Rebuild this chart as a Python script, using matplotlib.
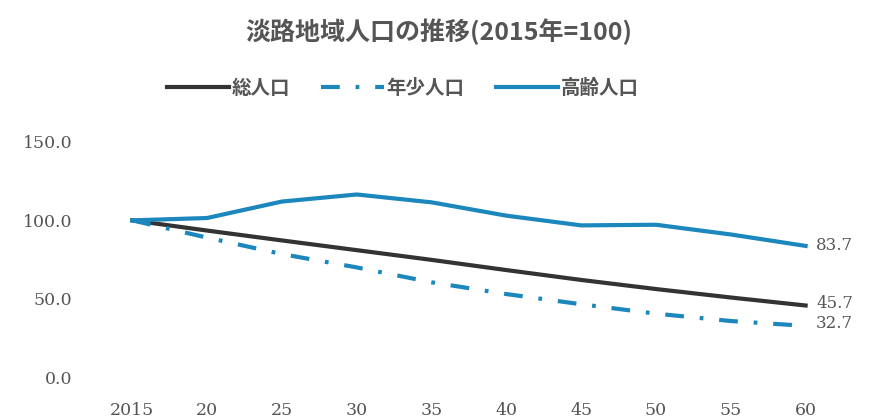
import matplotlib.pyplot as plt

plt.rcParams['font.family'] = ['Noto Sans CJK JP', 'DejaVu Sans']

years = [2015, 2020, 2025, 2030, 2035, 2040, 2045, 2050, 2055, 2060]
year_labels = ['2015', '20', '25', '30', '35', '40', '45', '50', '55', '60']

total = [100.0, 93.5, 87.2, 81.0, 74.8, 68.3, 62.0, 56.2, 50.8, 45.7]
youth = [100.0, 89.0, 78.5, 70.0, 60.5, 53.0, 46.5, 40.5, 35.8, 32.7]
elderly = [100.0, 101.5, 112.0, 116.5, 111.5, 103.0, 96.8, 97.2, 91.0, 83.7]

blue = '#1b87bd'
dark = '#333333'
grey = '#555555'
serif = ['DejaVu Serif']

fig = plt.figure(figsize=(8.7, 4.2), dpi=100)
ax = fig.add_axes([0.109, 0.102, 0.86, 0.56])

ax.plot(years, total, color=dark, lw=3.0, label='総人口')
ax.plot(years, youth, color=blue, lw=3.0, dashes=(4.5, 3.8, 0.9, 3.8),
        label='年少人口')
ax.plot(years, elderly, color=blue, lw=3.0, label='高齢人口')

# 終点の値
ax.text(2060.7, elderly[-1], f'{elderly[-1]:.1f}', va='center', ha='left',
        fontsize=12, color=grey, family=serif)
ax.text(2060.7, total[-1] + 1.5, f'{total[-1]:.1f}', va='center', ha='left',
        fontsize=12, color=grey, family=serif)
ax.text(2060.7, youth[-1] + 1.5, f'{youth[-1]:.1f}', va='center', ha='left',
        fontsize=12, color=grey, family=serif)

ax.set_xlim(2012.5, 2062.5)
ax.set_ylim(0, 150)
ax.set_xticks(years)
ax.set_xticklabels(year_labels)
ax.set_yticks([0, 50, 100, 150])
ax.set_yticklabels([f'{v:.1f}' for v in [0, 50, 100, 150]])
for lab in ax.get_xticklabels() + ax.get_yticklabels():
    lab.set_family(serif)
    lab.set_fontsize(12.5)
    lab.set_color(grey)
ax.tick_params(length=0)
ax.tick_params(axis='y', pad=16)
ax.tick_params(axis='x', pad=18)
for s in ax.spines.values():
    s.set_visible(False)

fig.text(0.505, 0.925, '淡路地域人口の推移(2015年=100)', ha='center', va='center',
         fontsize=18, color=grey, fontweight='bold')

fig.legend(loc='center', bbox_to_anchor=(0.463, 0.79), ncol=3, frameon=False,
           handlelength=3.2, handletextpad=0.15, columnspacing=1.6,
           prop={'family': ['Noto Sans CJK JP'], 'size': 14, 'weight': 'bold'},
           labelcolor=grey)

fig.savefig('out.png', dpi=100)
